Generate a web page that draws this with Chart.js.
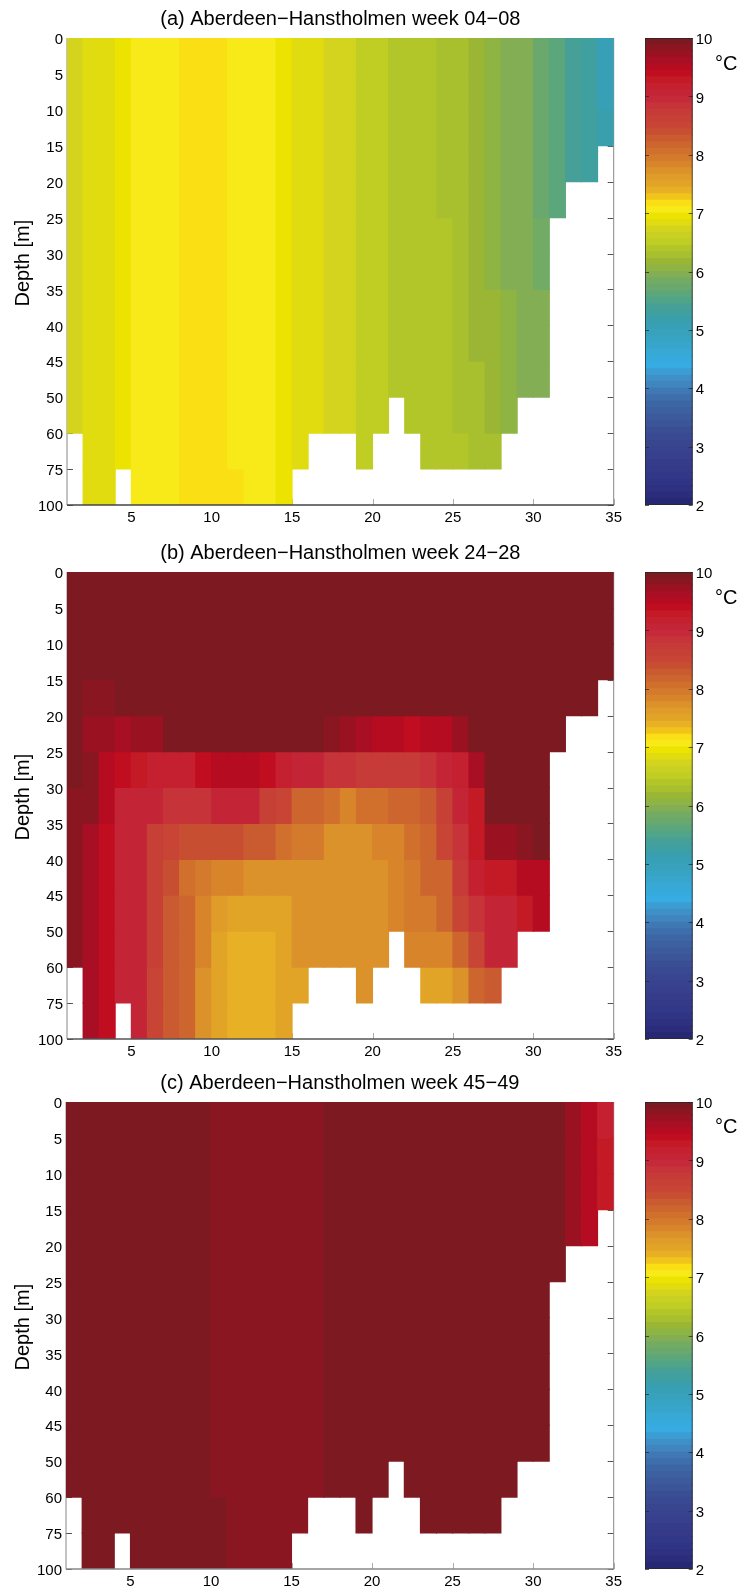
<!DOCTYPE html>
<html>
<head>
<meta charset="utf-8">
<script src="https://cdn.jsdelivr.net/npm/chart.js@4"></script>
<style>
  html, body { margin: 0; padding: 0; background: #fff; }
  #page { position: relative; width: 739px; height: 1592px; overflow: hidden; }
  canvas { position: absolute; }
  .unit { position: absolute; left: 715px; font: 20px "Liberation Sans", Arial, sans-serif; color: #000; }
</style>
</head>
<body>
<div id="page"></div>
<script>
const N = null;

const titles = [
  "(a) Aberdeen\u2212Hanstholmen week 04\u221208",
  "(b) Aberdeen\u2212Hanstholmen week 24\u221228",
  "(c) Aberdeen\u2212Hanstholmen week 45\u221249"
];
const depthLabels = ["0", "5", "10", "15", "20", "25", "30", "35", "40", "45", "50", "60", "75", "100"];
const depthTicks = [0, 1, 2, 3, 4, 5, 6, 7, 8, 9, 10, 11, 12, 13];
const stationTicks = [5, 10, 15, 20, 25, 30, 35];
const colorbarTicks = [2, 3, 4, 5, 6, 7, 8, 9, 10];

// colormap, coldest band first (2 to 10 degC in 72 steps)
const bandColors = [
  "#262874", "#2c2c7c", "#2e3080", "#303484", "#323888", "#343a88", "#363c8a", "#36408c", "#38428e",
  "#384690", "#3a4a92", "#3a4e94", "#3c5498", "#3c5a9c", "#3c60a0", "#3c66a4", "#3e6eac", "#4078b4",
  "#4084c0", "#4090c8", "#3c9cd4", "#36ace2", "#36aadc", "#38a8d4", "#38a6cc", "#38a4c4", "#38a2bc",
  "#38a0b6", "#3a9fac", "#40a0a0", "#46a098", "#50a488", "#5ca67c", "#6aa86e", "#72ab64", "#84ae54",
  "#8eb444", "#9ab634", "#a8c02e", "#b2c62a", "#c0ce24", "#c8d022", "#d4d41e", "#e0dc10", "#ece400",
  "#f8ea18", "#fadf14", "#f0c41a", "#e8b024", "#e2a426", "#e09c28", "#dc922a", "#d8842a", "#d47a2c",
  "#d0702c", "#cc662e", "#ca5a30", "#c84e32", "#c84435", "#c64036", "#c63a38", "#c6343a", "#c62a3a",
  "#c42536", "#c42030", "#c41a26", "#c00e20", "#b60c22", "#a80f24", "#9a1222", "#8a1622", "#7d1a21"
];

// temperature, one row per depth layer, one value per station interval
const sectionA = [
  [6.7,6.8,6.8,6.92,7.05,7.05,7.05,7.15,7.15,7.15,7.05,7.05,7.05,6.92,6.8,6.8,6.7,6.7,6.55,6.55,6.42,6.42,6.42,6.3,6.3,6.2,6.1,5.95,5.95,5.75,5.65,5.4,5.3,5.0],
  [6.7,6.8,6.8,6.92,7.05,7.05,7.05,7.15,7.15,7.15,7.05,7.05,7.05,6.92,6.8,6.8,6.7,6.7,6.55,6.55,6.42,6.42,6.42,6.3,6.3,6.2,6.1,5.95,5.95,5.75,5.65,5.4,5.3,5.0],
  [6.7,6.8,6.8,6.92,7.05,7.05,7.05,7.15,7.15,7.15,7.05,7.05,7.05,6.92,6.8,6.8,6.7,6.7,6.55,6.55,6.42,6.42,6.42,6.3,6.3,6.2,6.1,5.95,5.95,5.75,5.65,5.4,5.3,5.15],
  [6.7,6.8,6.8,6.92,7.05,7.05,7.05,7.15,7.15,7.15,7.05,7.05,7.05,6.92,6.8,6.8,6.7,6.7,6.55,6.55,6.42,6.42,6.42,6.3,6.3,6.2,6.1,5.95,5.95,5.75,5.65,5.4,5.3,N],
  [6.7,6.8,6.8,6.92,7.05,7.05,7.05,7.15,7.15,7.15,7.05,7.05,7.05,6.92,6.8,6.8,6.7,6.7,6.55,6.55,6.42,6.42,6.42,6.3,6.3,6.2,6.1,5.95,5.95,5.75,5.65,N,N,N],
  [6.7,6.8,6.8,6.92,7.05,7.05,7.05,7.15,7.15,7.15,7.05,7.05,7.05,6.92,6.8,6.8,6.7,6.7,6.55,6.55,6.42,6.42,6.42,6.42,6.3,6.2,6.1,5.95,5.95,5.83,N,N,N,N],
  [6.7,6.8,6.8,6.92,7.05,7.05,7.05,7.15,7.15,7.15,7.05,7.05,7.05,6.92,6.8,6.8,6.7,6.7,6.55,6.55,6.42,6.42,6.42,6.42,6.3,6.2,6.1,5.95,5.95,5.83,N,N,N,N],
  [6.7,6.8,6.8,6.92,7.05,7.05,7.05,7.15,7.15,7.15,7.05,7.05,7.05,6.92,6.8,6.8,6.7,6.7,6.55,6.55,6.42,6.42,6.42,6.42,6.3,6.2,6.2,6.1,5.95,5.95,N,N,N,N],
  [6.7,6.8,6.8,6.92,7.05,7.05,7.05,7.15,7.15,7.15,7.05,7.05,7.05,6.92,6.8,6.8,6.7,6.7,6.55,6.55,6.42,6.42,6.42,6.42,6.3,6.2,6.2,6.1,5.95,5.95,N,N,N,N],
  [6.7,6.8,6.8,6.92,7.05,7.05,7.05,7.15,7.15,7.15,7.05,7.05,7.05,6.92,6.8,6.8,6.7,6.7,6.55,6.55,6.42,6.42,6.42,6.42,6.3,6.3,6.2,6.1,5.95,5.95,N,N,N,N],
  [6.7,6.8,6.8,6.92,7.05,7.05,7.05,7.15,7.15,7.15,7.05,7.05,7.05,6.92,6.8,6.8,6.7,6.7,6.55,6.55,N,6.42,6.42,6.42,6.3,6.3,6.2,6.1,N,N,N,N,N,N],
  [N,6.8,6.8,6.92,7.05,7.05,7.05,7.15,7.15,7.15,7.05,7.05,7.05,6.92,6.8,N,N,N,6.55,N,N,N,6.42,6.42,6.42,6.3,6.3,N,N,N,N,N,N,N],
  [N,6.8,6.8,N,7.05,7.05,7.05,7.15,7.15,7.15,7.15,7.05,7.05,6.92,N,N,N,N,N,N,N,N,N,N,N,N,N,N,N,N,N,N,N,N]
];

const sectionB = [
  [10,10,10,10,10,10,10,10,10,10,10,10,10,10,10,10,10,10,10,10,10,10,10,10,10,10,10,10,10,10,10,10,10,10],
  [10,10,10,10,10,10,10,10,10,10,10,10,10,10,10,10,10,10,10,10,10,10,10,10,10,10,10,10,10,10,10,10,10,10],
  [10,10,10,10,10,10,10,10,10,10,10,10,10,10,10,10,10,10,10,10,10,10,10,10,10,10,10,10,10,10,10,10,10,10],
  [10,9.85,9.85,10,10,10,10,10,10,10,10,10,10,10,10,10,10,10,10,10,10,10,10,10,10,10,10,10,10,10,10,10,10,N],
  [10,9.7,9.7,9.6,9.7,9.7,10,10,10,10,10,10,10,10,10,10,9.8,9.7,9.6,9.5,9.5,9.42,9.5,9.5,9.7,10,10,10,10,10,10,N,N,N],
  [10,9.8,9.55,9.35,9.25,9.15,9.2,9.2,9.35,9.48,9.48,9.48,9.38,9.15,9.1,9.05,8.85,8.85,8.7,8.7,8.7,8.7,8.85,9.1,9.2,9.6,10,10,10,10,N,N,N,N],
  [9.85,9.8,9.55,9.1,9.1,9.05,8.85,8.85,8.85,9.0,9.0,9.0,8.6,8.45,8.2,8.2,8.05,7.85,8.0,8.0,8.15,8.15,8.3,8.6,9.05,9.3,10,10,10,10,N,N,N,N],
  [9.85,9.6,9.42,9.1,9.1,8.6,8.5,8.4,8.4,8.4,8.4,8.25,8.25,8.1,7.95,7.95,7.7,7.7,7.7,7.85,7.85,8.0,8.2,8.45,8.85,9.25,9.7,9.7,9.8,10,N,N,N,N],
  [9.85,9.6,9.42,9.1,9.0,8.6,8.4,8.05,7.95,7.85,7.85,7.7,7.7,7.7,7.7,7.7,7.7,7.7,7.7,7.7,7.8,7.95,8.2,8.2,8.7,9.15,9.3,9.3,9.45,9.55,N,N,N,N],
  [9.85,9.6,9.42,9.1,9.0,8.65,8.3,8.15,7.85,7.65,7.55,7.55,7.55,7.55,7.7,7.7,7.7,7.7,7.7,7.7,7.8,7.95,7.95,8.2,8.5,8.85,9.1,9.1,9.3,9.5,N,N,N,N],
  [9.85,9.6,9.42,9.1,9.0,8.6,8.3,8.15,7.85,7.5,7.4,7.4,7.4,7.55,7.7,7.7,7.7,7.7,7.7,7.7,N,7.8,7.8,7.8,8.2,8.55,9.0,9.05,N,N,N,N,N,N],
  [N,9.6,9.42,9.1,9.0,8.55,8.3,8.15,7.7,7.55,7.4,7.4,7.4,7.55,7.55,N,N,N,7.7,N,N,N,7.55,7.55,7.7,8.15,8.3,N,N,N,N,N,N,N],
  [N,9.6,9.42,N,9.0,8.55,8.3,8.15,7.7,7.55,7.4,7.4,7.4,7.55,N,N,N,N,N,N,N,N,N,N,N,N,N,N,N,N,N,N,N,N]
];

const sectionC = [
  [10,10,10,10,10,10,10,10,10,9.8,9.8,9.8,9.8,9.8,9.8,9.8,10,10,10,10,10,10,10,10,10,10,10,10,10,10,10,9.7,9.5,9.15],
  [10,10,10,10,10,10,10,10,10,9.8,9.8,9.8,9.8,9.8,9.8,9.8,10,10,10,10,10,10,10,10,10,10,10,10,10,10,10,9.7,9.5,9.3],
  [10,10,10,10,10,10,10,10,10,9.8,9.8,9.8,9.8,9.8,9.8,9.8,10,10,10,10,10,10,10,10,10,10,10,10,10,10,10,9.7,9.5,9.3],
  [10,10,10,10,10,10,10,10,10,9.8,9.8,9.8,9.8,9.8,9.8,9.8,10,10,10,10,10,10,10,10,10,10,10,10,10,10,10,9.7,9.5,N],
  [10,10,10,10,10,10,10,10,10,9.8,9.8,9.8,9.8,9.8,9.8,9.8,10,10,10,10,10,10,10,10,10,10,10,10,10,10,10,N,N,N],
  [10,10,10,10,10,10,10,10,10,9.8,9.8,9.8,9.8,9.8,9.8,9.8,10,10,10,10,10,10,10,10,10,10,10,10,10,10,N,N,N,N],
  [10,10,10,10,10,10,10,10,10,9.8,9.8,9.8,9.8,9.8,9.8,9.8,10,10,10,10,10,10,10,10,10,10,10,10,10,10,N,N,N,N],
  [10,10,10,10,10,10,10,10,10,9.8,9.8,9.8,9.8,9.8,9.8,9.8,10,10,10,10,10,10,10,10,10,10,10,10,10,10,N,N,N,N],
  [10,10,10,10,10,10,10,10,10,9.8,9.8,9.8,9.8,9.8,9.8,9.8,10,10,10,10,10,10,10,10,10,10,10,10,10,10,N,N,N,N],
  [10,10,10,10,10,10,10,10,10,9.8,9.8,9.8,9.8,9.8,9.8,9.8,10,10,10,10,10,10,10,10,10,10,10,10,10,10,N,N,N,N],
  [10,10,10,10,10,10,10,10,10,9.8,9.8,9.8,9.8,9.8,9.8,9.8,10,10,10,10,N,10,10,10,10,10,10,10,N,N,N,N,N,N],
  [N,10,10,10,10,10,10,10,10,10,9.8,9.8,9.8,9.8,9.8,N,N,N,10,N,N,N,10,10,10,10,10,N,N,N,N,N,N,N],
  [N,10,10,N,10,10,10,10,10,10,9.8,9.8,9.8,9.8,N,N,N,N,N,N,N,N,N,N,N,N,N,N,N,N,N,N,N,N]
];

const sections = [sectionA, sectionB, sectionC];

const FONT = '"Liberation Sans", Arial, sans-serif';
const page = document.getElementById("page");

// canvas placement for the 3 panels
const panelTops = [38, 572, 1102];
const panelLefts = [67, 67, 66];
const bottomLines = ["#444", "#555", "#888"];
const unitTops = [52, 586, 1115];

function bandIndex(v) {
  const i = Math.floor((v - 2) * 9);
  return Math.max(0, Math.min(bandColors.length - 1, i));
}

function addCanvas(left, top, width, height) {
  const c = document.createElement("canvas");
  c.width = width;
  c.height = height;
  c.style.left = left + "px";
  c.style.top = top + "px";
  c.style.width = width + "px";
  c.style.height = height + "px";
  page.appendChild(c);
  return c;
}

// MATLAB style box: ticks point inwards and sit behind the cells
const sectionFrame = {
  id: "sectionFrame",
  beforeDatasetsDraw(chart, args, opts) {
    const { ctx, chartArea: a, scales } = chart;
    ctx.save();
    ctx.lineWidth = 1;
    ctx.strokeStyle = "#555";
    depthTicks.forEach(d => {
      const y = Math.round(scales.y.getPixelForValue(d)) + 0.5;
      ctx.beginPath();
      ctx.moveTo(a.left, y); ctx.lineTo(a.left + 6, y);
      ctx.moveTo(a.right, y); ctx.lineTo(a.right - 6, y);
      ctx.stroke();
    });
    ctx.strokeStyle = "#aaa";
    stationTicks.forEach(s => {
      const x = Math.round(scales.x.getPixelForValue(s)) + 0.5;
      ctx.beginPath();
      ctx.moveTo(x, a.bottom); ctx.lineTo(x, a.bottom - 6);
      ctx.stroke();
    });
    ctx.strokeStyle = "#888";
    ctx.beginPath();
    ctx.moveTo(a.left, a.top); ctx.lineTo(a.left, a.bottom);
    ctx.moveTo(a.right, a.top); ctx.lineTo(a.right, a.bottom);
    ctx.stroke();
    ctx.restore();
  },
  afterDatasetsDraw(chart, args, opts) {
    const { ctx, chartArea: a } = chart;
    ctx.save();
    ctx.strokeStyle = opts.bottomColor;
    ctx.lineWidth = 1.5;
    ctx.beginPath();
    ctx.moveTo(a.left, a.bottom); ctx.lineTo(a.right, a.bottom);
    ctx.stroke();
    ctx.restore();
  }
};

const colorbarFrame = {
  id: "colorbarFrame",
  afterDatasetsDraw(chart) {
    const { ctx, chartArea: a, scales } = chart;
    ctx.save();
    ctx.strokeStyle = "rgba(40,40,40,0.75)";
    ctx.lineWidth = 1;
    ctx.strokeRect(a.left + 0.5, a.top + 0.5, a.right - a.left - 1, a.bottom - a.top - 1);
    colorbarTicks.forEach(t => {
      const y = Math.round(scales.y.getPixelForValue(t)) + 0.5;
      ctx.beginPath();
      ctx.moveTo(a.left, y); ctx.lineTo(a.left + 4, y);
      ctx.moveTo(a.right, y); ctx.lineTo(a.right - 4, y);
      ctx.stroke();
    });
    ctx.restore();
  }
};

function drawSection(p) {
  const rows = sections[p];
  const canvas = addCanvas(0, panelTops[p] - 38, 630, 528);
  const datasets = rows.map((row, r) => {
    const data = [];
    const colors = [];
    row.forEach((v, s) => {
      if (v === null) return;
      data.push({ x: s + 1.5, y: [r, r + 1] });
      colors.push(bandColors[bandIndex(v)]);
    });
    return { data, backgroundColor: colors, borderWidth: 0, inflateAmount: 0.51 };
  });

  new Chart(canvas.getContext("2d"), {
    type: "bar",
    data: { datasets },
    plugins: [sectionFrame],
    options: {
      responsive: false,
      animation: false,
      grouped: false,
      barPercentage: 1,
      categoryPercentage: 1,
      layout: { padding: { left: 0, right: 16.3, top: 0, bottom: 0 } },
      scales: {
        x: {
          type: "linear",
          min: 1,
          max: 35,
          offset: false,
          grid: { display: false, drawTicks: false },
          border: { display: false },
          afterBuildTicks: s => { s.ticks = stationTicks.map(v => ({ value: v })); },
          afterFit: s => { s.height = 23; },
          ticks: {
            autoSkip: false, maxRotation: 0, padding: 4, color: "#000",
            font: { family: FONT, size: 15 }
          }
        },
        y: {
          type: "linear",
          min: 0,
          max: 13,
          reverse: true,
          grid: { display: false, drawTicks: false },
          border: { display: false },
          afterBuildTicks: s => { s.ticks = depthTicks.map(v => ({ value: v })); },
          afterFit: s => { s.width = panelLefts[p]; },
          ticks: {
            autoSkip: false, padding: 4, color: "#000", labelOffset: 2,
            font: { family: FONT, size: 15 },
            callback: v => depthLabels[v]
          },
          title: {
            display: true, text: "   Depth [m]", color: "#000",
            padding: { top: 11, bottom: 0 },
            font: { family: FONT, size: 20 }
          }
        }
      },
      plugins: {
        legend: { display: false },
        tooltip: { enabled: false },
        title: {
          display: true,
          text: titles[p],
          fullSize: false,
          color: "#000",
          padding: { top: 7, bottom: 7 },
          font: { family: FONT, size: 20, weight: "normal" }
        },
        sectionFrame: { bottomColor: bottomLines[p] }
      }
    }
  });
}

function drawColorbar(p) {
  const canvas = addCanvas(620, panelTops[p] - 16, 119, 499);
  const datasets = bandColors.map((color, i) => ({
    data: [[2 + i / 9, 2 + (i + 1) / 9]],
    backgroundColor: color,
    borderWidth: 0,
    inflateAmount: 0.51
  }));

  new Chart(canvas.getContext("2d"), {
    type: "bar",
    data: { labels: [""], datasets },
    plugins: [colorbarFrame],
    options: {
      responsive: false,
      animation: false,
      grouped: false,
      barPercentage: 1,
      categoryPercentage: 1,
      layout: { padding: { left: 25, right: 0, top: 16, bottom: 16 } },
      scales: {
        x: { display: false },
        y: {
          position: "right",
          min: 2,
          max: 10,
          grid: { display: false, drawTicks: false },
          border: { display: false },
          afterFit: s => { s.width = 46.3; },
          afterBuildTicks: s => { s.ticks = colorbarTicks.map(v => ({ value: v })); },
          ticks: {
            padding: 3, color: "#000", labelOffset: 2,
            font: { family: FONT, size: 15 }
          }
        }
      },
      plugins: { legend: { display: false }, tooltip: { enabled: false } }
    }
  });

  const unit = document.createElement("div");
  unit.className = "unit";
  unit.textContent = "\u00b0C";
  unit.style.top = unitTops[p] + "px";
  page.appendChild(unit);
}

[0, 1, 2].forEach(p => {
  drawSection(p);
  drawColorbar(p);
});
</script>
</body>
</html>
